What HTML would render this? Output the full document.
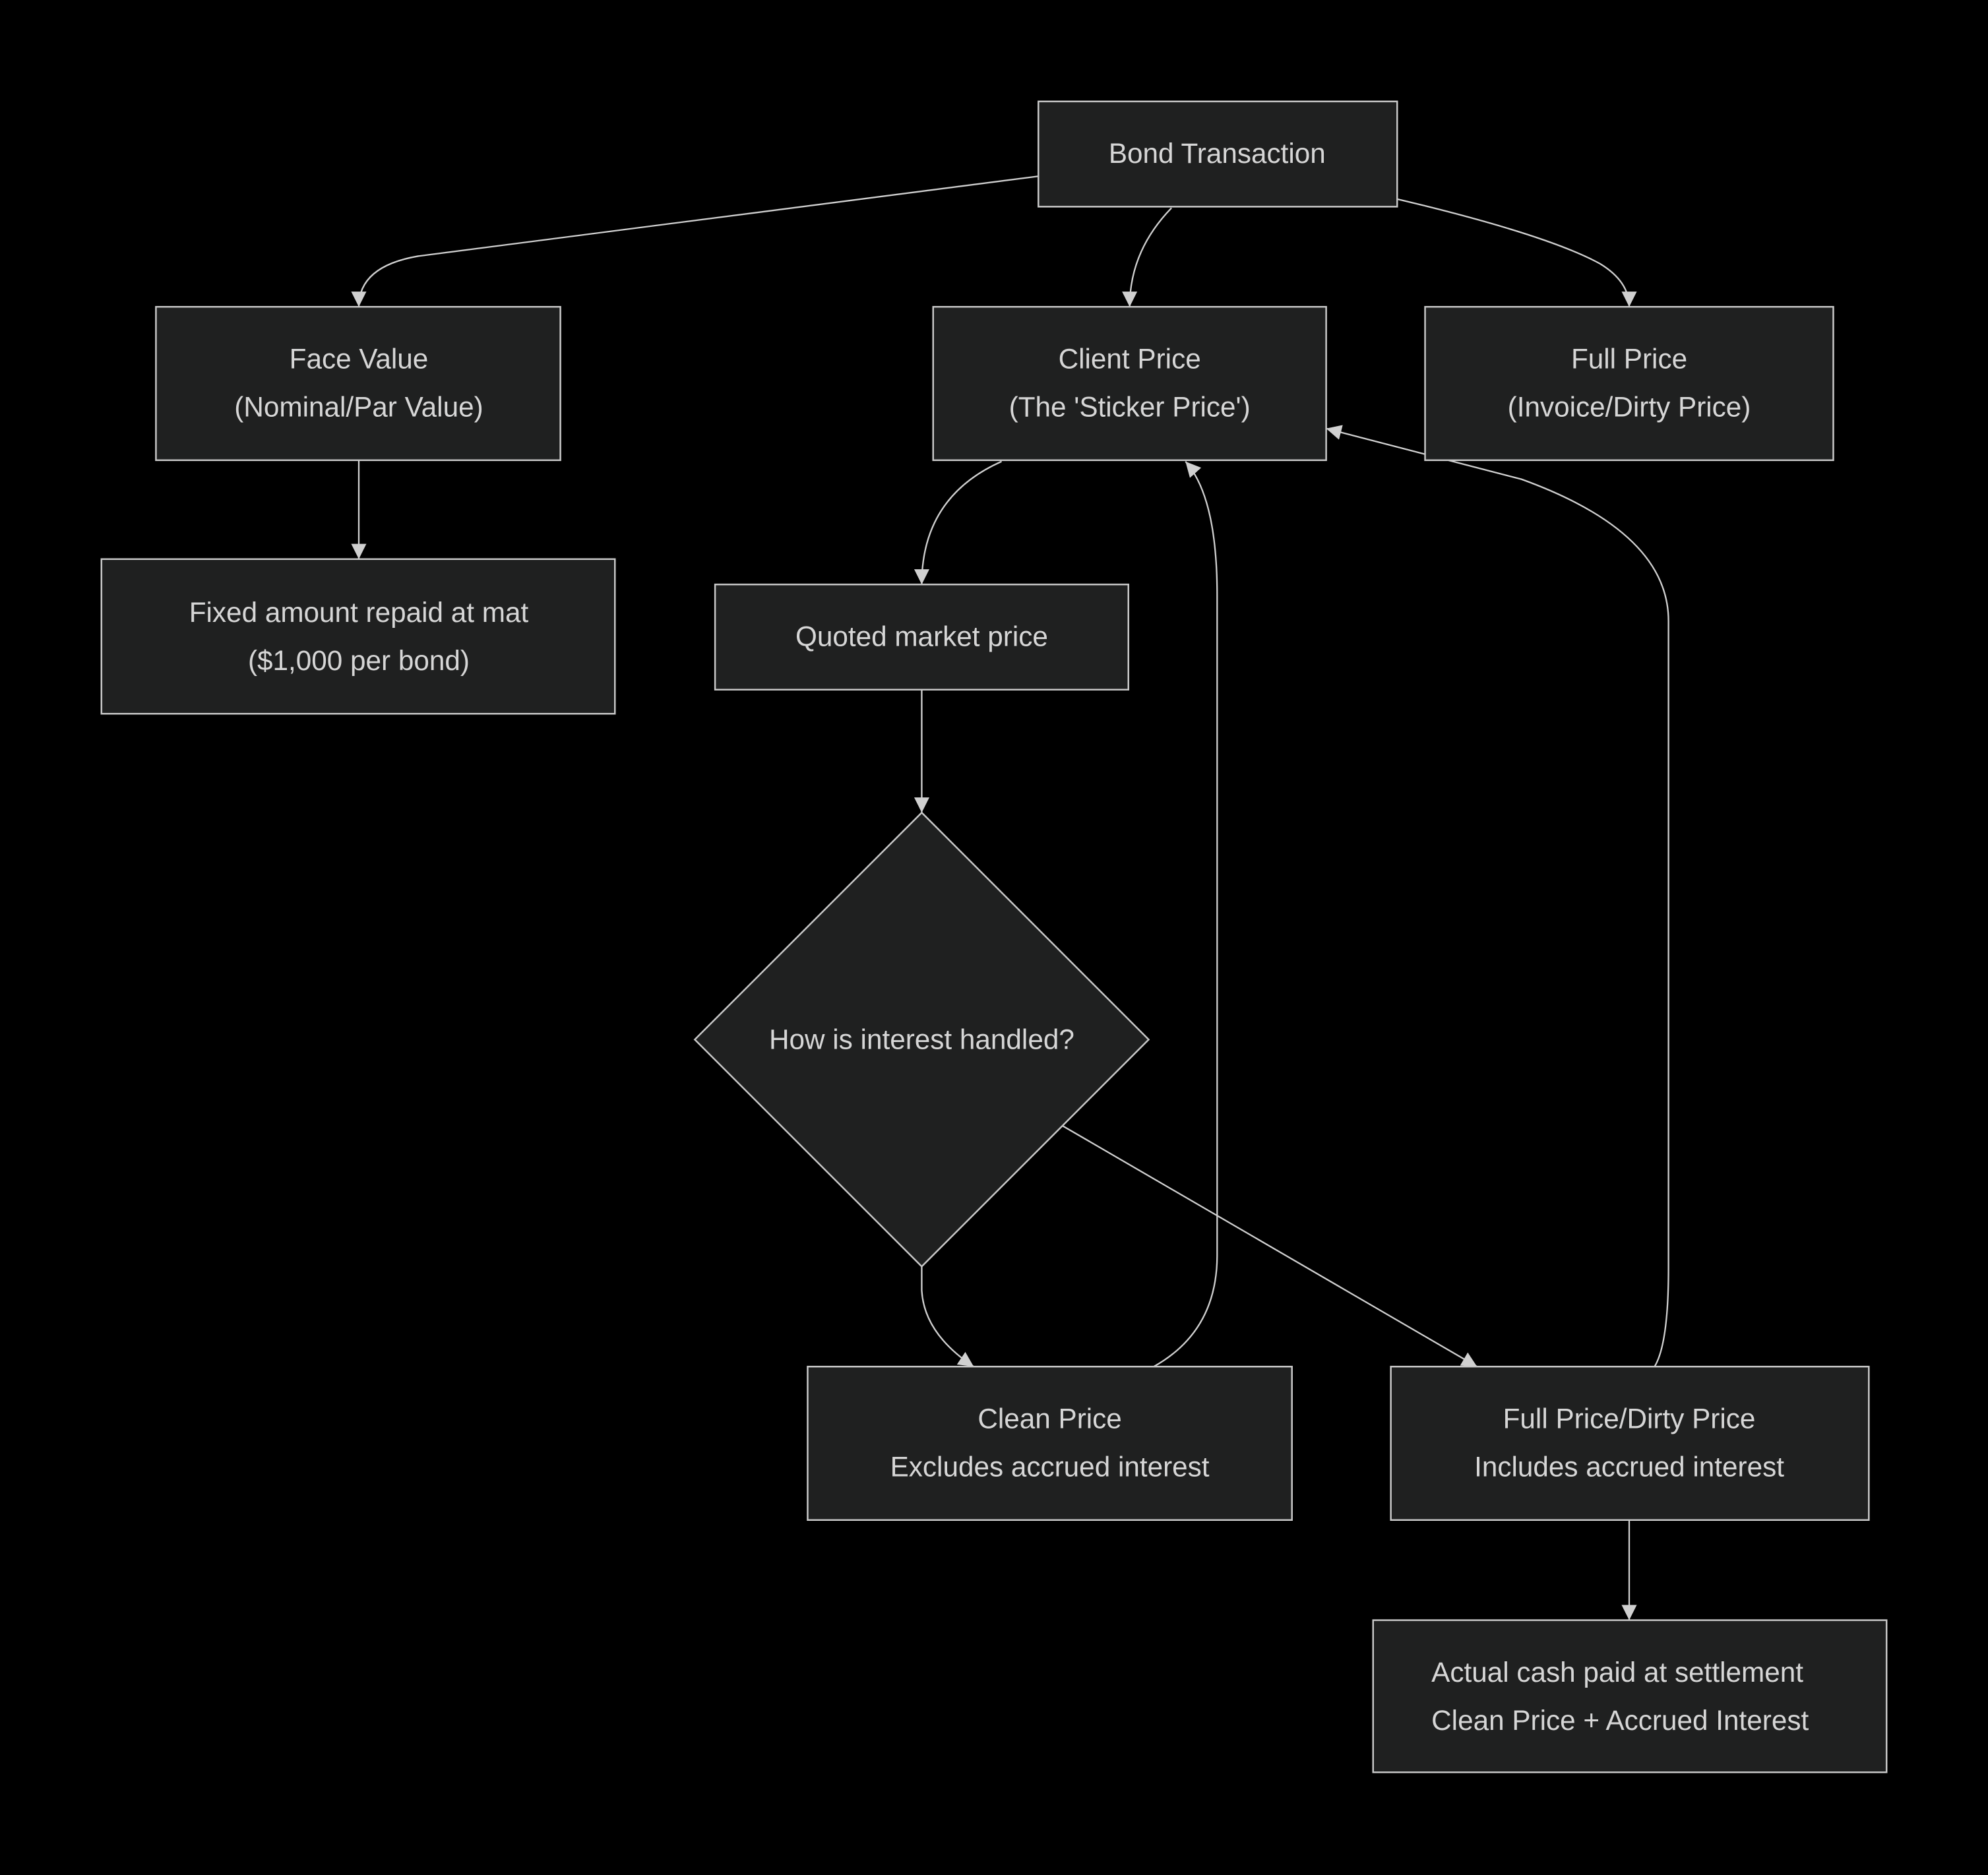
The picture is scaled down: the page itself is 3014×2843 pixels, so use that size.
<!DOCTYPE html>
<html><head><meta charset="utf-8"><style>
html,body{margin:0;padding:0;background:#000;}
svg{display:block;}
text{font-family:"Liberation Sans","DejaVu Sans",sans-serif;fill:#d6d6d6;font-size:22px;text-anchor:middle;dominant-baseline:central;}
.n{fill:#1f2020;stroke:#c8c8c8;stroke-width:1.3;}
.e{fill:none;stroke:#d0d0d0;stroke-width:1.2;}
</style></head><body>
<svg width="3014" height="2843" viewBox="0 0 1568 1479" xmlns="http://www.w3.org/2000/svg">
<defs>
<marker id="a" markerUnits="userSpaceOnUse" markerWidth="12" markerHeight="12" refX="10" refY="5" orient="auto" viewBox="0 0 10 10">
<path d="M0,0 L10,5 L0,10 z" fill="#d0d0d0"/>
</marker>
<clipPath id="c"><rect x="1083" y="1278" width="358" height="120"/></clipPath>
</defs>
<rect width="1568" height="1479" fill="#000"/>
<!-- edges -->
<path class="e" marker-end="url(#a)" d="M819,139 L330,202 Q283,210 283,242"/>
<path class="e" marker-end="url(#a)" d="M924,164 Q891,198 891,242"/>
<path class="e" marker-end="url(#a)" d="M1102,157 Q1220,185 1262,208 Q1285,222 1285,242"/>
<path class="e" marker-end="url(#a)" d="M283,363 L283,441"/>
<path class="e" marker-end="url(#a)" d="M790,364 Q727,392 727,461"/>
<path class="e" marker-end="url(#a)" d="M727,544 L727,641"/>
<path class="e" marker-end="url(#a)" d="M727,999 L727,1018 Q729,1052 768,1078"/>
<path class="e" marker-end="url(#a)" d="M838,888 L1165,1078"/>
<path class="e" marker-end="url(#a)" d="M910,1078 Q960,1050 960,990 L960,470 Q960,392 935,364"/>
<path class="e" marker-end="url(#a)" d="M1305,1078 Q1316,1060 1316,1000 L1316,490 Q1316,420 1200,378 L1046,338"/>
<path class="e" marker-end="url(#a)" d="M1285,1199 L1285,1278"/>
<!-- nodes -->
<rect class="n" x="819" y="80" width="283" height="83"/>
<text x="960" y="121">Bond Transaction</text>
<rect class="n" x="123" y="242" width="319" height="121"/>
<text x="283" y="283">Face Value</text><text x="283" y="321">(Nominal/Par Value)</text>
<rect class="n" x="736" y="242" width="310" height="121"/>
<text x="891" y="283">Client Price</text><text x="891" y="321">(The 'Sticker Price')</text>
<rect class="n" x="1124" y="242" width="322" height="121"/>
<text x="1285" y="283">Full Price</text><text x="1285" y="321">(Invoice/Dirty Price)</text>
<rect class="n" x="80" y="441" width="405" height="122"/>
<text x="283" y="483">Fixed amount repaid at mat</text><text x="283" y="521">($1,000 per bond)</text>
<rect class="n" x="564" y="461" width="326" height="83"/>
<text x="727" y="502">Quoted market price</text>
<polygon class="n" points="727,641 906,820 727,999 548,820"/>
<text x="727" y="820">How is interest handled?</text>
<rect class="n" x="637" y="1078" width="382" height="121"/>
<text x="828" y="1119">Clean Price</text><text x="828" y="1157">Excludes accrued interest</text>
<rect class="n" x="1097" y="1078" width="377" height="121"/>
<text x="1285" y="1119">Full Price/Dirty Price</text><text x="1285" y="1157">Includes accrued interest</text>
<rect class="n" x="1083" y="1278" width="405" height="120"/>
<g clip-path="url(#c)">
<text x="1129" y="1319" style="text-anchor:start">Actual cash paid at settlement</text>
<text x="1129" y="1357" style="text-anchor:start">Clean Price + Accrued Interest</text>
</g>
</svg>
</body></html>
